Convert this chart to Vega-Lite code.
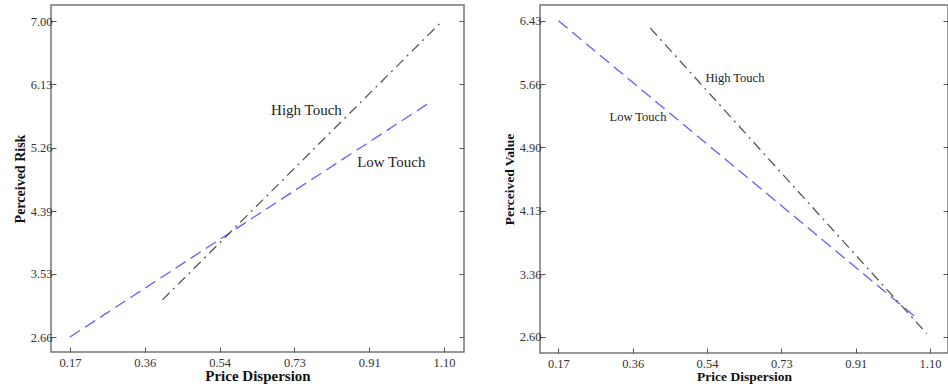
{
  "$schema": "https://vega.github.io/schema/vega-lite/v6.json",
  "padding": {"left": 12, "top": 4, "right": 0, "bottom": 0},
  "background": "white",
  "spacing": 35,
  "datasets": {
    "risk": [
      {"series": "Low Touch", "x": 0.17, "y": 2.66},
      {"series": "Low Touch", "x": 1.07, "y": 5.90},
      {"series": "High Touch", "x": 0.40, "y": 3.17},
      {"series": "High Touch", "x": 1.092, "y": 6.98}
    ],
    "riskLabels": [
      {"label": "High Touch", "x": 0.67, "y": 5.78},
      {"label": "Low Touch", "x": 0.884, "y": 5.06}
    ],
    "value": [
      {"series": "Low Touch", "x": 0.17, "y": 6.43},
      {"series": "Low Touch", "x": 1.069, "y": 2.82},
      {"series": "High Touch", "x": 0.40, "y": 6.34},
      {"series": "High Touch", "x": 1.092, "y": 2.64}
    ],
    "valueLabels": [
      {"label": "High Touch", "x": 0.538, "y": 5.73},
      {"label": "Low Touch", "x": 0.298, "y": 5.265}
    ]
  },
  "config": {
    "view": {"stroke": "#777777", "strokeWidth": 1.5},
    "axis": {
      "labelFont": "Liberation Serif",
      "labelFontSize": 12.5,
      "labelColor": "#333333",
      "titleFont": "Liberation Serif",
      "titleFontWeight": "bold",
      "titleColor": "#111111",
      "tickColor": "#555555",
      "tickSize": -5,
      "domain": false,
      "grid": false,
      "labelPadding": 4,
      "titlePadding": 3
    },
    "axisX": {"labelPadding": 9, "titlePadding": 0}
  },
  "hconcat": [
    {
      "width": 413,
      "height": 347,
      "layer": [
        {
          "data": {"name": "risk"},
          "mark": {"type": "line", "strokeWidth": 1.3},
          "encoding": {
            "x": {"field": "x", "type": "quantitative",
              "scale": {"domain": [0.1228, 1.1497], "nice": false, "zero": false},
              "axis": {"values": [0.17, 0.356, 0.542, 0.728, 0.914, 1.10], "format": ".2f", "title": "Price Dispersion", "titleFontSize": 15}},
            "y": {"field": "y", "type": "quantitative",
              "scale": {"domain": [2.454, 7.22], "nice": false, "zero": false},
              "axis": {"values": [2.66, 3.53, 4.39, 5.26, 6.13, 7.0], "format": ".2f", "title": "Perceived Risk", "titleFontSize": 14, "orient": "left"}},
            "color": {"field": "series", "type": "nominal",
              "scale": {"domain": ["High Touch", "Low Touch"], "range": ["#555555", "#6060ff"]}, "legend": null},
            "strokeDash": {"field": "series", "type": "nominal",
              "scale": {"domain": ["High Touch", "Low Touch"], "range": [[10, 5, 2, 5], [12, 6]]}, "legend": null}
          }
        },
        {
          "data": {"name": "riskLabels"},
          "mark": {"type": "text", "align": "left", "baseline": "middle", "font": "Liberation Serif", "fontSize": 15, "color": "#222222"},
          "encoding": {
            "x": {"field": "x", "type": "quantitative", "scale": {"domain": [0.1228, 1.1497], "nice": false, "zero": false}},
            "y": {"field": "y", "type": "quantitative", "scale": {"domain": [2.454, 7.22], "nice": false, "zero": false},
              "axis": {"orient": "right", "values": [2.66, 3.53, 4.39, 5.26, 6.13, 7.0], "labels": false, "title": null}},
            "text": {"field": "label"}
          }
        }
      ],
      "resolve": {"axis": {"y": "independent"}}
    },
    {
      "width": 408,
      "height": 348,
      "layer": [
        {
          "data": {"name": "value"},
          "mark": {"type": "line", "strokeWidth": 1.3},
          "encoding": {
            "x": {"field": "x", "type": "quantitative",
              "scale": {"domain": [0.124, 1.145], "nice": false, "zero": false},
              "axis": {"values": [0.17, 0.356, 0.542, 0.728, 0.914, 1.10], "format": ".2f", "title": "Price Dispersion", "titleFontSize": 13.5}},
            "y": {"field": "y", "type": "quantitative",
              "scale": {"domain": [2.406, 6.62], "nice": false, "zero": false},
              "axis": {"values": [2.60, 3.36, 4.13, 4.90, 5.66, 6.43], "format": ".2f", "title": "Perceived Value", "titleFontSize": 13.5, "orient": "left"}},
            "color": {"field": "series", "type": "nominal",
              "scale": {"domain": ["High Touch", "Low Touch"], "range": ["#555555", "#6060ff"]}, "legend": null},
            "strokeDash": {"field": "series", "type": "nominal",
              "scale": {"domain": ["High Touch", "Low Touch"], "range": [[10, 5, 2, 5], [12, 6]]}, "legend": null}
          }
        },
        {
          "data": {"name": "valueLabels"},
          "mark": {"type": "text", "align": "left", "baseline": "middle", "font": "Liberation Serif", "fontSize": 12.5, "color": "#222222"},
          "encoding": {
            "x": {"field": "x", "type": "quantitative", "scale": {"domain": [0.124, 1.145], "nice": false, "zero": false}},
            "y": {"field": "y", "type": "quantitative", "scale": {"domain": [2.406, 6.62], "nice": false, "zero": false},
              "axis": {"orient": "right", "values": [2.60, 3.36, 4.13, 4.90, 5.66, 6.43], "labels": false, "title": null}},
            "text": {"field": "label"}
          }
        }
      ],
      "resolve": {"axis": {"y": "independent"}}
    }
  ]
}
